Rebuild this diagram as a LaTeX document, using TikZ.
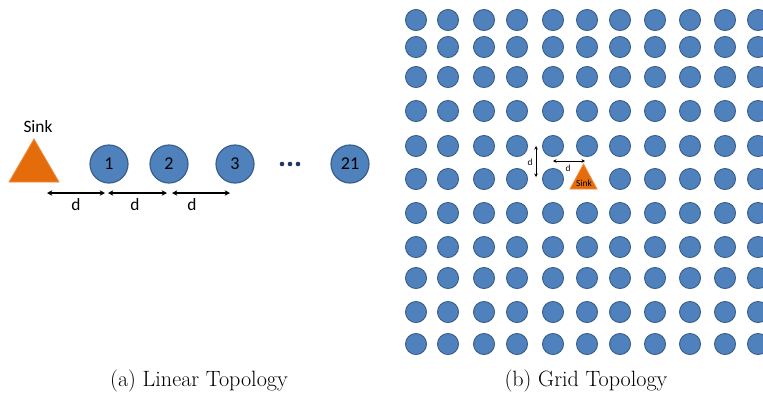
\documentclass[tikz,border=0pt]{standalone}
\usepackage{fontspec}
\newfontfamily\calib{Carlito}
\usetikzlibrary{arrows.meta}
\definecolor{nodeblue}{HTML}{4F81BD}
\definecolor{nodeedge}{HTML}{3A5F8C}
\definecolor{sinkorange}{HTML}{E46C0A}
\definecolor{sinkedge}{HTML}{F08A3C}
\definecolor{dotblue}{HTML}{1F3864}
\tikzset{
  bignode/.style={circle,fill=nodeblue,draw=nodeedge,line width=0.9pt,minimum size=28.5pt,inner sep=0pt,font=\calib\fontsize{13.5}{13.5}\selectfont},
  gridnode/.style={circle,fill=nodeblue,draw=nodeedge,line width=0.7pt,minimum size=15.8pt,inner sep=0pt},
  sinkshape/.style={fill=sinkorange,draw=sinkedge,line width=0.6pt,line join=miter},
  dist/.style={{Stealth[length=4pt,width=4pt]}-{Stealth[length=4pt,width=4pt]},line width=0.9pt},
  smalldist/.style={{Stealth[length=2.6pt,width=2.6pt]}-{Stealth[length=2.6pt,width=2.6pt]},line width=0.6pt},
  biglabel/.style={font=\calib\fontsize{13}{13}\selectfont,inner sep=0pt},
  smalllabel/.style={font=\calib\fontsize{7}{7}\selectfont,inner sep=0pt},
  caption/.style={font=\fontsize{16.6}{19}\selectfont,inner sep=0pt}
}
\begin{document}
\begin{tikzpicture}[x=0.75pt,y=-0.75pt]
\useasboundingbox (0,0) rectangle (763,394);
% ---------- (a) linear topology ----------
\filldraw[sinkshape] (9,182) -- (34,139) -- (59,182) -- cycle;
\node[biglabel] (sinklabel) at (38,127) {Sink};
\node[bignode] (n1) at (109,164) {1};
\node[bignode] (n2) at (169,164) {2};
\node[bignode] (n3) at (235,164) {3};
\node[bignode] (n21) at (350,164) {21};
\foreach \px [count=\k] in {282,290,298}
  \fill[dotblue] (\px,164) circle[radius=2.3];
\coordinate (a1) at (47,193);  \coordinate (b1) at (105,193);
\coordinate (a2) at (108,193); \coordinate (b2) at (167,193);
\coordinate (a3) at (172,193); \coordinate (b3) at (230,193);
\draw[dist] (a1) -- (b1);
\draw[dist] (a2) -- (b2);
\draw[dist] (a3) -- (b3);
\node[biglabel] (d1) at (76,205) {d};
\node[biglabel] (d2) at (135,205) {d};
\node[biglabel] (d3) at (192,205) {d};
\node[caption] (capa) at (199,381) {(a) Linear Topology};
% ---------- (b) grid topology ----------
\foreach \py [count=\r] in {20,47,77,111,146,179,213,247,278,312,344}{
  \foreach \px [count=\c] in {416,448,484,517,553,587,620,655,690,725,758}{
    \ifnum\numexpr\r*100+\c\relax=606\relax
    \else
      \node[gridnode] (g-\r-\c) at (\px,\py) {};
    \fi
  }
}
\filldraw[sinkshape] (570,189) -- (583.5,164) -- (597,189) -- cycle;
\node[smalllabel] (gsink) at (584,183) {Sink};
\coordinate (v1) at (536,146); \coordinate (v2) at (536,177);
\coordinate (h1) at (553,161); \coordinate (h2) at (585,161);
\draw[smalldist] (v1) -- (v2);
\draw[smalldist] (h1) -- (h2);
\node[smalllabel] (dv) at (530,162) {d};
\node[smalllabel] (dh) at (568,168) {d};
\node[caption] (capb) at (586,381) {(b) Grid Topology};
\end{tikzpicture}
\end{document}
